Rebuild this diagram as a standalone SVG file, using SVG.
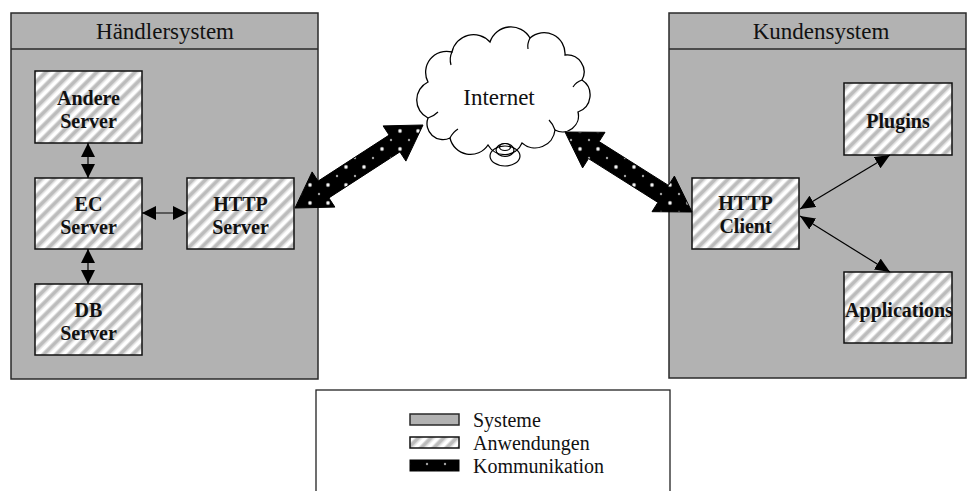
<svg xmlns="http://www.w3.org/2000/svg" width="967" height="491" viewBox="0 0 967 491">
  <defs>
    <style>
      .sys { fill: #b2b2b2; stroke: #2a2a2a; stroke-width: 1.5; }
      .hdr { fill: none; stroke: #2a2a2a; stroke-width: 1.5; }
      .app { fill: url(#hatch); stroke: #111; stroke-width: 1.5; }
      .title { font-family: "Liberation Serif", "Times New Roman", serif; font-size: 23px; fill: #111; text-anchor: middle; }
      .lbl { font-family: "Liberation Serif", "Times New Roman", serif; font-size: 20px; font-weight: bold; fill: #111; text-anchor: middle; }
      .leg { font-family: "Liberation Serif", "Times New Roman", serif; font-size: 20px; fill: #111; }
      .link { stroke: #000; stroke-width: 1.2; fill: none; }
      .bold-link { marker-start: url(#headL); marker-end: url(#headL); }
      .thin-link { marker-start: url(#headR); marker-end: url(#headR); }
      .comm { fill: url(#dots); stroke: #000; stroke-width: 1; }
      .cloud { fill: #fff; stroke: #000; stroke-width: 1.3; }
      .tick { fill: none; stroke: #000; stroke-width: 1.2; }
    </style>
    <!-- diagonal light-grey stripes for application boxes -->
    <pattern id="hatch" patternUnits="userSpaceOnUse" width="9" height="9" patternTransform="rotate(45)">
      <rect width="9" height="9" fill="#fff"/>
      <rect x="0" y="0" width="1" height="9" fill="#dadada"/>
      <rect x="1" y="0" width="3.5" height="9" fill="#bcbcbc"/>
      <rect x="4.5" y="0" width="1" height="9" fill="#dadada"/>
    </pattern>
    <!-- black with white dots for communication arrows -->
    <pattern id="dots" patternUnits="userSpaceOnUse" width="18" height="18">
      <rect width="18" height="18" fill="#000"/>
      <circle cx="4" cy="5" r="2.2" fill="#707070"/>
      <circle cx="4" cy="5" r="1.4" fill="#f2f2f2"/>
      <circle cx="13" cy="14" r="1.2" fill="#a0a0a0"/>
    </pattern>
    <marker id="headL" markerUnits="userSpaceOnUse" markerWidth="14" markerHeight="14" refX="14" refY="7" orient="auto-start-reverse">
      <path d="M0,0 L14,7 L0,14 z" fill="#000"/>
    </marker>
    <marker id="headR" markerUnits="userSpaceOnUse" markerWidth="15" markerHeight="13" refX="15" refY="6.5" orient="auto-start-reverse">
      <path d="M0,0 L15,6.5 L0,13 z" fill="#000"/>
    </marker>
  </defs>

  <rect width="967" height="491" fill="#fff"/>

  <!-- merchant system -->
  <g id="haendlersystem">
    <rect class="sys" x="11" y="13" width="307" height="366"/>
    <line class="hdr" x1="11" y1="49" x2="318" y2="49"/>
    <text class="title" x="165" y="39">Händlersystem</text>
  </g>

  <!-- customer system -->
  <g id="kundensystem">
    <rect class="sys" x="669" y="13" width="297" height="365"/>
    <line class="hdr" x1="669" y1="49" x2="966" y2="49"/>
    <text class="title" x="821" y="39">Kundensystem</text>
  </g>

  <g id="andere-server">
    <rect class="app" x="35" y="71" width="107" height="72"/>
    <text class="lbl" x="88.5" y="105">Andere</text>
    <text class="lbl" x="88.5" y="128">Server</text>
  </g>

  <g id="ec-server">
    <rect class="app" x="35" y="178" width="107" height="71"/>
    <text class="lbl" x="88.5" y="211">EC</text>
    <text class="lbl" x="88.5" y="234">Server</text>
  </g>

  <g id="db-server">
    <rect class="app" x="35" y="284" width="107" height="71"/>
    <text class="lbl" x="88.5" y="317">DB</text>
    <text class="lbl" x="88.5" y="340">Server</text>
  </g>

  <g id="http-server">
    <rect class="app" x="187" y="178" width="107" height="71"/>
    <text class="lbl" x="240.5" y="211">HTTP</text>
    <text class="lbl" x="240.5" y="234">Server</text>
  </g>

  <g id="http-client">
    <rect class="app" x="692" y="178" width="107" height="71"/>
    <text class="lbl" x="745.5" y="210">HTTP</text>
    <text class="lbl" x="745.5" y="233">Client</text>
  </g>

  <g id="plugins">
    <rect class="app" x="844" y="83" width="108" height="72"/>
    <text class="lbl" x="898" y="128">Plugins</text>
  </g>

  <g id="applications">
    <rect class="app" x="844" y="272" width="108" height="71"/>
    <text class="lbl" x="899" y="317">Applications</text>
  </g>

  <!-- internet cloud -->
  <g id="internet">
    <path class="cloud" d="M428,82
      A21,21 0 0 1 452,52
      A22,22 0 0 1 490,42
      A22,22 0 0 1 530,38
      A21,21 0 0 1 565,55
      A17,17 0 0 1 582,80
      A18,18 0 0 1 578,112
      A16,16 0 0 1 555,130
      A20,20 0 0 1 522,143
      A19,19 0 0 1 488,145
      A21,21 0 0 1 450,138
      A16,16 0 0 1 428,118
      A20,20 0 0 1 428,82 z"/>
    <path class="tick" d="M452,52 q-3,6 -1,13"/>
    <path class="tick" d="M530,38 q-3,6 -2,11"/>
    <path class="tick" d="M582,80 q-6,2 -9,7"/>
    <path class="tick" d="M555,130 q-2,-6 -6,-10"/>
    <path class="tick" d="M450,138 q3,-6 8,-9"/>
    <path class="tick" d="M428,118 q6,-2 10,-6"/>
    <ellipse class="tick" cx="505" cy="156" rx="15" ry="10" fill="#fff"/>
    <ellipse class="tick" cx="505" cy="150" rx="9" ry="6.5"/>
    <ellipse class="tick" cx="505" cy="147" rx="5.5" ry="3.5"/>
    <text class="title" x="499" y="105">Internet</text>
  </g>

  <!-- connectors -->
  <g id="connectors">
    <line class="link bold-link" x1="88" y1="143" x2="88" y2="178"/>
    <line class="link bold-link" x1="88" y1="249" x2="88" y2="284"/>
    <line class="link bold-link" x1="142" y1="213" x2="187" y2="213"/>
    <line class="link thin-link" x1="800" y1="209" x2="890" y2="155"/>
    <line class="link thin-link" x1="800" y1="216" x2="890" y2="272"/>
    <polygon class="comm" points="295,208 312.1,171.9 318.1,181.1 389.1,135.1 383.1,125.9 423,125 405.9,161.1 399.9,151.9 328.9,197.9 334.9,207.1"/>
    <polygon class="comm" points="565,132 605,132.3 599.1,141.6 668.5,185.4 674.4,176.1 692,212 652,211.7 657.9,202.4 588.5,158.6 582.6,167.9"/>
  </g>

  <!-- legend -->
  <g id="legend">
    <rect x="316" y="390" width="354" height="120" fill="#fff" stroke="#222" stroke-width="1.3"/>
    <rect class="sys" x="410" y="414" width="49" height="11" stroke="#000"/>
    <text class="leg" x="473" y="427">Systeme</text>
    <rect class="app" x="410" y="437" width="49" height="11"/>
    <text class="leg" x="473" y="450">Anwendungen</text>
    <rect class="comm" x="410" y="460" width="49" height="11"/>
    <text class="leg" x="473" y="473">Kommunikation</text>
  </g>
</svg>
